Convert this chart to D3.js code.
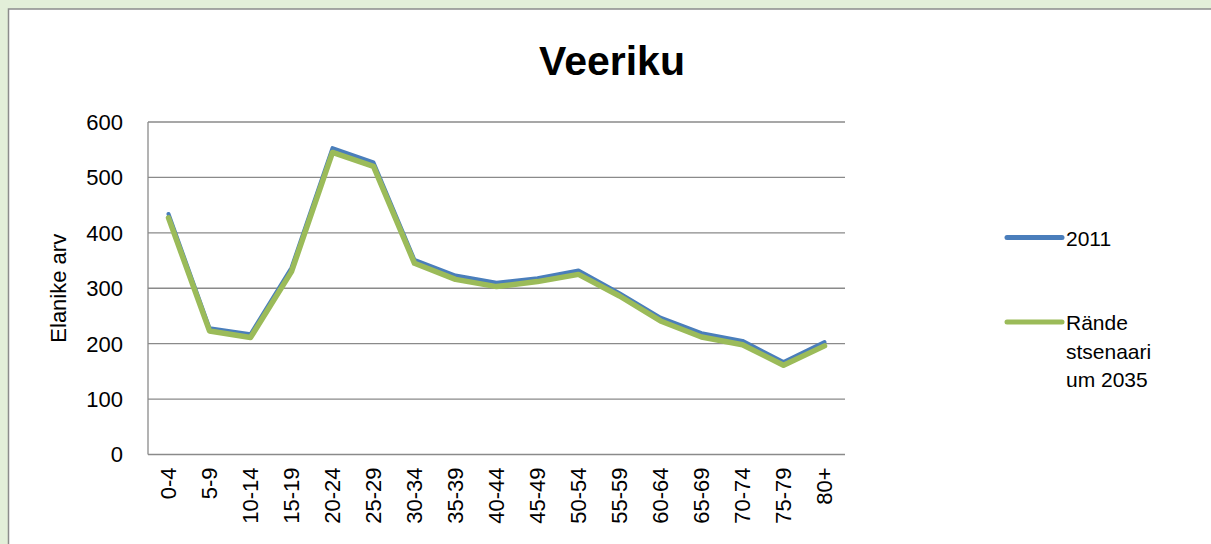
<!DOCTYPE html>
<html>
<head>
<meta charset="utf-8">
<script src="https://cdn.jsdelivr.net/npm/d3@7"></script>
<style>
  html, body { margin: 0; padding: 0; background: #e3efd9; }
  svg { display: block; font-family: "Liberation Sans", Arial, sans-serif; }
</style>
</head>
<body>
<svg id="chart" width="1211" height="544"></svg>
<script>
const title = "Veeriku";
const yTitle = "Elanike arv";
const categories = ["0-4","5-9","10-14","15-19","20-24","25-29","30-34","35-39","40-44","45-49","50-54","55-59","60-64","65-69","70-74","75-79","80+"];
const values2011 = [434, 228, 217, 337, 553, 527, 351, 323, 310, 318, 332, 291, 247, 219, 205, 167, 203];
const values2035 = [427, 223, 211, 330, 545, 520, 345, 316, 303, 312, 325, 286, 241, 212, 198, 161, 196];
const yTicks = [0, 100, 200, 300, 400, 500, 600];
const seriesNames = ["2011", "Rände stsenaari um 2035"];
const legendLines = [["2011"], ["Rände", "stsenaari", "um 2035"]];
const colors = ["#4a7ebb", "#9bbb59"];
const widths = [4, 5.5];

const svg = d3.select("#chart");

// chart area box
svg.append("rect")
  .attr("x", 8.5).attr("y", 9)
  .attr("width", 1300).attr("height", 600)
  .attr("fill", "#ffffff")
  .attr("stroke", "#8c8c8c").attr("stroke-width", 1.5);

const pLeft = 148, pRight = 845, pTop = 122, pBottom = 454.5;

const x = d3.scalePoint().domain(categories).range([pLeft, pRight]).padding(0.5);
const y = d3.scaleLinear().domain([0, 600]).range([pBottom, pTop]);

// gridlines
svg.append("g").selectAll("line").data(yTicks).join("line")
  .attr("x1", pLeft).attr("x2", pRight)
  .attr("y1", d => y(d)).attr("y2", d => y(d))
  .attr("stroke", "#8a8a8a").attr("stroke-width", 1.3);

// y axis line
svg.append("line")
  .attr("x1", pLeft).attr("x2", pLeft)
  .attr("y1", pTop).attr("y2", pBottom)
  .attr("stroke", "#8a8a8a").attr("stroke-width", 1.3);

// y tick labels
svg.append("g").selectAll("text").data(yTicks).join("text")
  .attr("x", 123).attr("y", d => y(d))
  .attr("dy", "0.36em")
  .attr("text-anchor", "end")
  .attr("font-size", 22)
  .attr("fill", "#000")
  .text(d => d);

// y axis title
svg.append("text")
  .attr("transform", `translate(66,${(pTop + pBottom) / 2}) rotate(-90)`)
  .attr("text-anchor", "middle")
  .attr("font-size", 22)
  .attr("fill", "#000")
  .text(yTitle);

// x labels
svg.append("g").selectAll("text").data(categories).join("text")
  .attr("transform", d => `translate(${x(d)},${pBottom + 13}) rotate(-90)`)
  .attr("dy", "0.36em")
  .attr("text-anchor", "end")
  .attr("font-size", 22)
  .attr("fill", "#000")
  .text(d => d);

// title
svg.append("text")
  .attr("x", 612).attr("y", 75)
  .attr("text-anchor", "middle")
  .attr("font-size", 41)
  .attr("font-weight", "bold")
  .attr("fill", "#000")
  .text(title);

// lines
const line = d3.line().x((d, i) => x(categories[i])).y(d => y(d));
[values2011, values2035].forEach((vals, k) => {
  svg.append("path")
    .datum(vals)
    .attr("d", line)
    .attr("fill", "none")
    .attr("stroke", colors[k])
    .attr("stroke-width", widths[k])
    .attr("stroke-linejoin", "round")
    .attr("stroke-linecap", "round");
});

// legend
const legendY = [237.5, 322];
legendLines.forEach((lines, k) => {
  const g = svg.append("g");
  g.append("line")
    .attr("x1", 1007).attr("x2", 1062)
    .attr("y1", legendY[k]).attr("y2", legendY[k])
    .attr("stroke", colors[k]).attr("stroke-width", 5)
    .attr("stroke-linecap", "round");
  lines.forEach((t, j) => {
    g.append("text")
      .attr("x", 1066).attr("y", legendY[k] + 8 + j * 28.5)
      .attr("font-size", 21)
      .attr("fill", "#000")
      .text(t);
  });
});
</script>
</body>
</html>
